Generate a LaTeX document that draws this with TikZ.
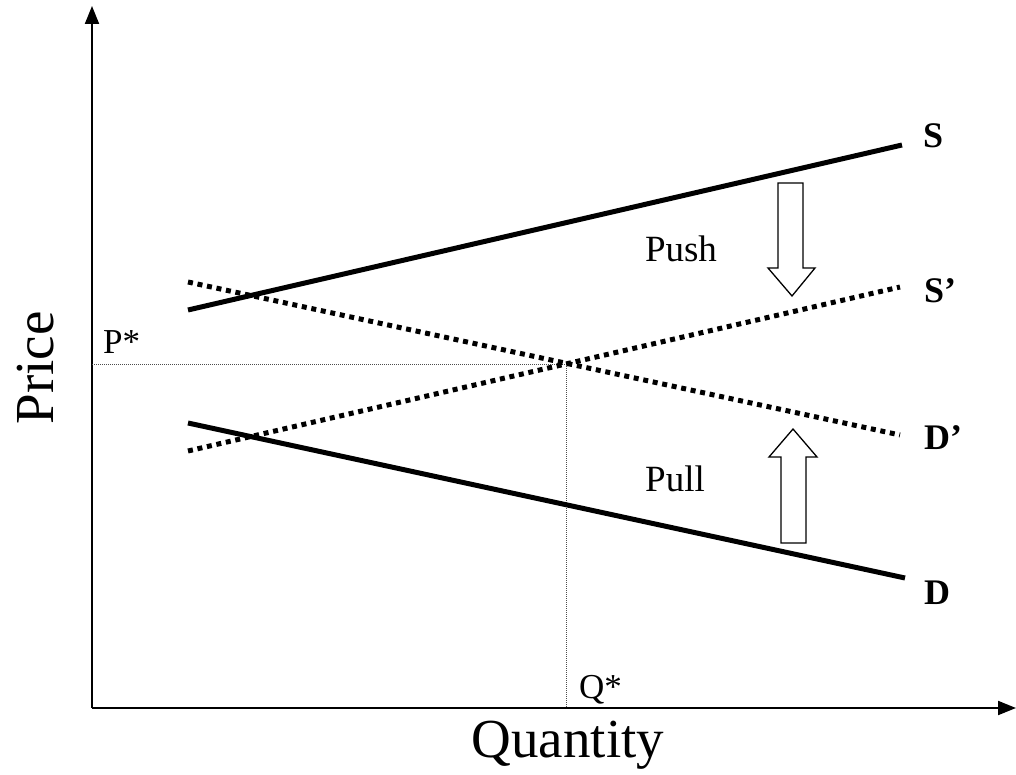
\documentclass[tikz,border=0pt]{standalone}
\usepackage{fontspec}
\setmainfont{Liberation Serif}
\usetikzlibrary{arrows.meta}

\begin{document}
\begin{tikzpicture}[x=1pt,y=-1pt,
  axis/.style={draw=black,line width=2pt,-{Triangle[length=18pt,width=14pt]}},
  solidcurve/.style={draw=black,line width=5pt},
  dotcurve/.style={draw=black,line width=5pt,dash pattern=on 5pt off 4.7pt},
  guide/.style={draw=black!70,line width=1pt,dash pattern=on 1pt off 1pt},
  blockarrow/.style={draw=black,line width=1.3pt,fill=white,line join=miter},
  curvelabel/.style={anchor=base west,inner sep=0pt,font=\fontsize{36}{40}\selectfont\bfseries},
  textlabel/.style={anchor=base,inner sep=0pt,font=\fontsize{37}{40}\selectfont},
  axislabel/.style={anchor=base,inner sep=0pt,font=\fontsize{55}{60}\selectfont}]
  \useasboundingbox (0,0) rectangle (1016,775);
  % axes
  \coordinate (origin) at (92,708);
  \coordinate (ytop) at (92,6);
  \coordinate (xend) at (1016,708);
  \draw[axis] (origin) -- (ytop);
  \draw[axis] (origin) -- (xend);
  % equilibrium guides
  \coordinate (eq) at (566,364);
  \coordinate (pstar) at (92,364);
  \coordinate (qstar) at (566,708);
  \draw[guide] (pstar) -- (eq);
  \draw[guide] (eq) -- (qstar);
  % supply and demand
  \coordinate (s0) at (188,310);  \coordinate (s1) at (902,145);
  \coordinate (sp0) at (188,451); \coordinate (sp1) at (900,287);
  \coordinate (dp0) at (188,282); \coordinate (dp1) at (900,435);
  \coordinate (d0) at (188,423);  \coordinate (d1) at (905,578);
  \draw[solidcurve] (s0) -- (s1);
  \draw[dotcurve] (sp0) -- (sp1);
  \draw[dotcurve] (dp0) -- (dp1);
  \draw[solidcurve] (d0) -- (d1);
  % push and pull arrows
  \draw[blockarrow] (778,183) -- (803,183) -- (803,268) -- (815,268) -- (792,296)
    -- (768,268) -- (778,268) -- cycle;
  \draw[blockarrow] (781,543) -- (806,543) -- (806,457) -- (817,457) -- (793,429)
    -- (769,457) -- (781,457) -- cycle;
  % labels
  \node[curvelabel] (slabel) at (923,148) {S};
  \node[curvelabel] (splabel) at (924,302) {S’};
  \node[curvelabel] (dplabel) at (924,449) {D’};
  \node[curvelabel] (dlabel) at (924,604) {D};
  \node[textlabel] (push) at (681,262) {Push};
  \node[textlabel] (pull) at (675,491) {Pull};
  \node[textlabel,anchor=base west,font=\fontsize{35}{36}\selectfont] (plabel) at (103,353) {P*};
  \node[textlabel,anchor=base west,font=\fontsize{35}{36}\selectfont] (qlabel) at (579,698) {Q*};
  \node[axislabel,rotate=90] (price) at (53,368) {Price};
  \node[axislabel] (quantity) at (568,757) {Quantity};
\end{tikzpicture}
\end{document}
